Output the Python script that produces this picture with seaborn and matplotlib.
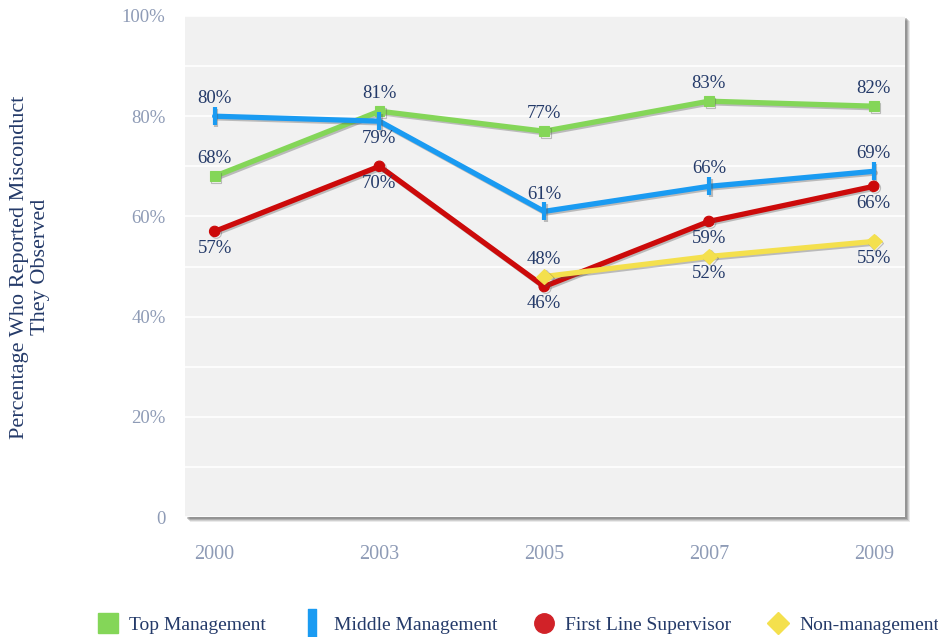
import matplotlib
matplotlib.use("Agg")
import matplotlib.pyplot as plt
import matplotlib.patheffects as pe
from matplotlib.lines import Line2D
from matplotlib.patches import Rectangle
import seaborn as sns
import pandas as pd
import numpy as np

years = ["2000", "2003", "2005", "2007", "2009"]
top_mgmt = [68, 81, 77, 83, 82]
middle_mgmt = [80, 79, 61, 66, 69]
first_line = [57, 70, 46, 59, 66]
non_mgmt = [None, None, 48, 52, 55]

series_names = ["Top Management", "Middle Management", "First Line Supervisor", "Non-management"]
series_vals = [top_mgmt, middle_mgmt, first_line, non_mgmt]
colors = ["#84d658", "#1a9bf2", "#cc0a0a", "#f4e04d"]
markers = ["s", "|", "o", "D"]
msizes = [7, 13, 7.5, 8]
# label placement: +1 above, -1 below
label_pos = [
    [1, 1, 1, 1, 1],
    [1, -1, 1, 1, 1],
    [-1, -1, -1, -1, -1],
    [0, 0, 1, -1, -1],
]

sns.set_theme(style="white")
plt.rcParams["font.family"] = ["Liberation Serif", "DejaVu Serif"]

fig = plt.figure(figsize=(9.38, 6.37), dpi=100)
ax = fig.add_axes([185 / 938, 1 - 517 / 637, 720 / 938, 501 / 637])
ax.set_facecolor("#f1f1f1")

# shadow of plot area
for i, (off, a) in enumerate([(5, 0.12), (4, 0.18), (3, 0.25), (2, 0.3)]):
    fig.patches.append(Rectangle(((185 + off) / 938, (120 - off) / 637), 720 / 938, 501 / 637,
                                 transform=fig.transFigure, facecolor="#555555", alpha=a,
                                 edgecolor="none", zorder=-1))

rows = []
for name, vals in zip(series_names, series_vals):
    for i, v in enumerate(vals):
        if v is not None:
            rows.append({"series": name, "x": i, "value": v})
df = pd.DataFrame(rows)

for name, col, mk, ms in zip(series_names, colors, markers, msizes):
    sub = df[df["series"] == name]
    sns.lineplot(data=sub, x="x", y="value", ax=ax, color=col, linewidth=3.8,
                 marker=mk, markersize=ms, markeredgecolor=col,
                 markeredgewidth=3 if mk == "|" else 0.8, zorder=3,
                 path_effects=[pe.SimpleLineShadow(offset=(1.2, -1.2), alpha=0.35, shadow_color="#555555"),
                               pe.Normal()])

for vals, pos in zip(series_vals, label_pos):
    for i, (v, p) in enumerate(zip(vals, pos)):
        if v is None:
            continue
        ax.annotate(f"{v}%", (i, v), xytext=(0, 12.5 * p), textcoords="offset points",
                    ha="center", va="center", fontsize=13.5, color="#243a69", zorder=5)

ax.set_xlim(-0.18, 4.19)
ax.set_ylim(0, 100)
ax.set_yticks([0, 20, 40, 60, 80, 100])
ax.set_yticklabels(["0", "20%", "40%", "60%", "80%", "100%"])
ax.set_yticks(np.arange(0, 101, 10), minor=True)
ax.set_xticks(range(len(years)))
ax.set_xticklabels(years)
ax.grid(True, which="both", axis="y", color="white", linewidth=1.2)
ax.grid(False, axis="x")
ax.set_axisbelow(True)
for s in ax.spines.values():
    s.set_visible(False)
ax.tick_params(axis="y", which="both", length=0, pad=14, labelsize=13.5, labelcolor="#8e9bb6")
ax.tick_params(axis="x", length=0, pad=20, labelsize=14.5, labelcolor="#8e9bb6")
ax.set_xlabel("")
ax.set_ylabel("")
fig.text(30 / 938, 1 - 267 / 637, "Percentage Who Reported Misconduct\nThey Observed",
         rotation=90, ha="center", va="center", fontsize=16, color="#243a69",
         linespacing=1.1)

bar_marker = [(-0.3, -1), (0.3, -1), (0.3, 1), (-0.3, 1), (-0.3, -1)]
handles = [
    Line2D([], [], linestyle="none", marker="s", markersize=14, color=colors[0]),
    Line2D([], [], linestyle="none", marker=bar_marker, markersize=20, color=colors[1]),
    Line2D([], [], linestyle="none", marker="o", markersize=14, color="#d12228"),
    Line2D([], [], linestyle="none", marker="D", markersize=11, color=colors[3]),
]
fig.legend(handles, series_names, loc="center", bbox_to_anchor=(0.553, 1 - 625 / 637),
           ncol=4, frameon=False, fontsize=14, labelcolor="#243a69",
           columnspacing=1.9, handletextpad=0.6, handlelength=1.0)

fig.savefig("out.png", dpi=100)
